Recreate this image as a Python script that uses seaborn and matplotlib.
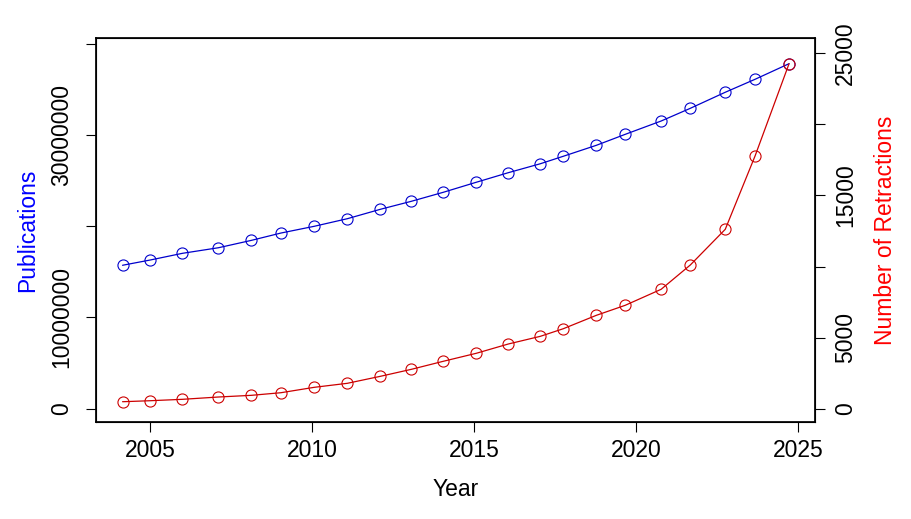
import matplotlib
matplotlib.use("Agg")
import matplotlib.pyplot as plt
import seaborn as sns
import numpy as np
import pandas as pd

# ---- data ----
years = [2004.14, 2005.00, 2005.99, 2007.10, 2008.12, 2009.03, 2010.06, 2011.08,
         2012.10, 2013.06, 2014.04, 2015.06, 2016.05, 2017.04, 2017.75, 2018.77,
         2019.66, 2020.77, 2021.67, 2022.75, 2023.67, 2024.72]
publications = [15.71e6, 16.29e6, 17.02e6, 17.63e6, 18.44e6, 19.24e6, 19.98e6, 20.81e6,
                21.84e6, 22.72e6, 23.70e6, 24.80e6, 25.85e6, 26.83e6, 27.65e6, 28.85e6,
                30.05e6, 31.51e6, 32.90e6, 34.66e6, 36.08e6, 37.79e6]
retractions = [492, 563, 661, 823, 942, 1125, 1505, 1786, 2278, 2771, 3333, 3896,
               4550, 5091, 5626, 6568, 7271, 8397, 10105, 12616, 17771, 24262]
x_ticks = [2005, 2010, 2015, 2020, 2025]
left_ticks = [0, 10000000, 20000000, 30000000, 40000000]
left_labels = ["0", "10000000", "", "30000000", ""]
right_ticks = [0, 5000, 10000, 15000, 20000, 25000]
right_labels = ["0", "5000", "", "15000", "", "25000"]

df = pd.DataFrame({"Year": years, "Publications": publications, "Retractions": retractions})

sns.set_theme(style="white")
plt.rcParams["font.family"] = ["Liberation Sans", "DejaVu Sans"]
plt.rcParams.update({"text.color": "black", "axes.labelcolor": "black",
                     "xtick.color": "black", "ytick.color": "black",
                     "axes.edgecolor": "black"})

FS = 16.5
BLUE = "#0000CC"
RED = "#CC0000"

fig = plt.figure(figsize=(9.12, 5.19), dpi=100)
ax = fig.add_axes([0.1056, 0.1863, 0.788, 0.7399])

sns.lineplot(data=df, x="Year", y="Publications", ax=ax, color=BLUE, lw=0.9,
             marker="o", markersize=8, markerfacecolor="none",
             markeredgecolor=BLUE, markeredgewidth=0.8)
ax.set_xlim(2003.33, 2025.52)
ax.set_ylim(-1.49e6, 40.57e6)
ax.set_xticks(x_ticks)
ax.set_xticklabels([str(t) for t in x_ticks])
ax.set_yticks(left_ticks)
ax.set_yticklabels(left_labels, rotation=90, va="center")
ax.tick_params(axis="both", direction="out", length=7.2, width=0.8, color="black",
               labelsize=FS, labelcolor="black")
ax.tick_params(axis="y", pad=9.4, left=True)
ax.tick_params(axis="x", pad=5, bottom=True)
ax.set_xlabel("Year", fontsize=FS, color="black", labelpad=11)
ax.set_ylabel("Publications", fontsize=FS, color="blue", labelpad=8)
for s in ax.spines.values():
    s.set_color("black")
    s.set_linewidth(0.8)

ax2 = ax.twinx()
sns.lineplot(data=df, x="Year", y="Retractions", ax=ax2, color=RED, lw=0.9,
             marker="o", markersize=8, markerfacecolor="none",
             markeredgecolor=RED, markeredgewidth=0.8)
ax2.set_ylim(-956, 26048)
ax2.set_yticks(right_ticks)
ax2.set_yticklabels(right_labels, rotation=90, va="center")
ax2.tick_params(axis="y", direction="out", length=7.2, width=0.8, color="black",
                labelsize=FS, labelcolor="black", pad=6.5, right=True)
ax2.set_ylabel("Number of Retractions", fontsize=FS, color="red", labelpad=12)
ax2.grid(False)
ax.grid(False)

fig.savefig("out.png", dpi=100)
